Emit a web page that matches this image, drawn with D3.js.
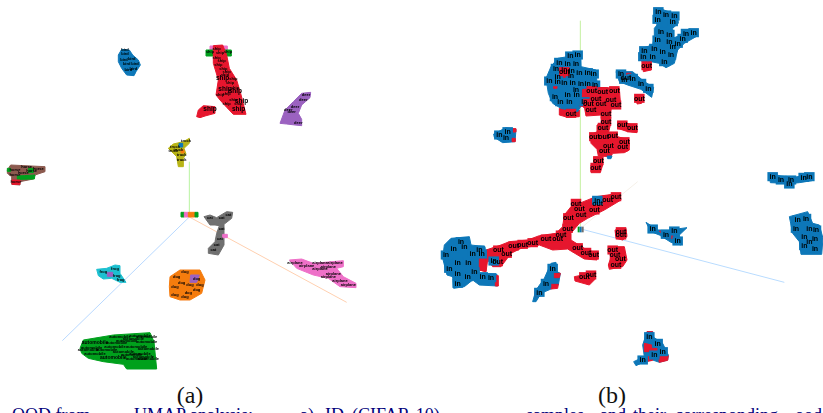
<!DOCTYPE html>
<html>
<head>
<meta charset="utf-8">
<script src="https://cdn.jsdelivr.net/npm/d3@7"></script>
<style>
html, body { margin: 0; padding: 0; background: #fff; overflow: hidden; }
</style>
</head>
<body>
<div id="umap-vis"></div>
<script>
const classNames = ["bird", "ship", "automobile", "deer", "truck", "horse", "cat", "frog", "dog", "airplane", "in", "out"];
const classColors = ["#0a77b8", "#e6162d", "#00a01e", "#9b62c0", "#b8b414", "#8c5a50", "#6f6f6f", "#1fc0d0", "#f57c10", "#ee70c8", "#0a77b8", "#e6162d"];

const blobsTopA = [
    ["bird", [[355,165],[365,148],[388,150],[398,165],[415,180],[421,195],[408,215],[402,227],[380,225],[365,205],[355,185]]],
    ["airplane", [[630,138],[682,138],[682,150],[630,150]]],
    ["automobile", [[618,150],[694,150],[694,168],[618,168]]],
    ["ship", [[640,137],[668,135],[680,165],[688,205],[710,240],[722,280],[738,343],[700,343],[680,322],[660,300],[648,285],[655,240],[640,190]]],
    ["ship", [[590,350],[595,330],[610,317],[645,320],[645,340],[615,348],[600,353]]],
    ["deer", [[840,370],[855,330],[880,305],[905,280],[932,277],[930,293],[905,315],[895,340],[905,358],[905,377],[885,375],[860,372]]],
    ["truck", [[505,445],[520,432],[550,425],[568,415],[568,430],[552,445],[558,462],[550,475],[550,500],[535,500],[530,470],[515,455]]],
    ["bird", [[537,430],[548,430],[548,441],[537,441]]],
    ["dog", [[543,450],[552,450],[552,459],[543,459]]],
    ["horse", [[22,510],[32,495],[135,500],[135,515],[105,525],[100,537],[60,545],[60,555],[35,553],[35,530],[22,520]]],
    ["automobile", [[52,528],[105,525],[103,537],[52,538]]],
    ["automobile", [[22,505],[32,505],[32,514],[22,514]]],
    ["automobile", [[85,505],[100,505],[100,518],[85,518]]],
    ["ship", [[36,540],[60,540],[60,553],[36,553]]]
];
const blobsBottomA = [
    ["automobile", [[543,22],[553,22],[553,36],[543,36]]],
    ["airplane", [[553,22],[565,22],[565,36],[553,36]]],
    ["dog", [[565,22],[585,22],[585,36],[565,36]]],
    ["automobile", [[585,22],[594,22],[594,36],[585,36]]],
    ["cat", [[612,35],[630,30],[650,38],[680,20],[698,22],[695,40],[672,58],[672,120],[655,150],[625,145],[625,130],[645,110],[650,85],[658,62],[645,60],[630,60]]],
    ["airplane", [[668,88],[682,88],[682,98],[668,98]]],
    ["frog", [[290,193],[320,190],[345,180],[360,182],[360,205],[378,232],[360,232],[335,220],[310,222],[295,212]]],
    ["deer", [[322,202],[338,202],[338,214],[322,214]]],
    ["dog", [[510,215],[540,195],[600,195],[615,225],[605,265],[570,285],[540,285],[510,275],[508,245]]],
    ["deer", [[572,210],[598,210],[590,232],[570,232]]],
    ["airplane", [[868,165],[905,162],[940,175],[1030,167],[1030,185],[1010,190],[1030,215],[1068,235],[1068,248],[1020,245],[985,220],[940,210],[890,190]]],
    ["automobile", [[240,430],[250,405],[340,390],[450,383],[462,410],[470,492],[380,492],[370,478],[310,470],[265,460],[245,445]]]
];
const blobsTopB = [
    ["out", [[445,325],[505,330],[505,350],[470,352],[445,345]]],
    ["in", [[405,235],[420,200],[440,175],[470,170],[490,155],[508,155],[510,200],[555,210],[558,250],[560,265],[520,270],[515,310],[500,335],[450,325],[425,310],[412,280]]],
    ["out", [[452,205],[468,205],[468,232],[452,232]]],
    ["out", [[428,238],[438,238],[438,265],[428,265]]],
    ["out", [[515,268],[560,262],[625,265],[628,305],[600,328],[598,345],[598,375],[592,400],[620,410],[655,420],[655,450],[640,458],[605,460],[600,470],[562,468],[558,448],[540,430],[538,405],[558,395],[558,375],[572,370],[570,345],[525,348],[520,320],[505,318]]],
    ["in", [[588,468],[603,468],[600,476],[590,476]]],
    ["out", [[620,367],[650,370],[678,380],[678,398],[650,395],[620,385]]],
    ["out", [[548,472],[575,472],[575,495],[568,518],[540,518],[540,495],[548,490]]],
    ["out", [[695,185],[718,185],[720,210],[697,215]]],
    ["in", [[730,25],[745,25],[800,45],[802,70],[785,85],[785,115],[810,105],[815,92],[855,90],[855,110],[820,130],[800,150],[790,190],[765,203],[745,190],[720,185],[695,188],[688,175],[690,145],[725,135],[730,110],[730,85],[738,75],[732,50]]],
    ["in", [[615,215],[665,215],[700,245],[728,262],[722,292],[690,268],[650,255],[625,245]]],
    ["out", [[678,285],[695,285],[692,310],[678,312]]],
    ["in", [[248,402],[285,383],[315,388],[312,425],[275,428],[250,412]]],
    ["out", [[305,386],[315,386],[315,396],[305,396]]],
    ["out", [[303,415],[313,415],[313,425],[303,425]]],
    ["in", [[1075,520],[1110,528],[1150,532],[1200,522],[1203,542],[1165,548],[1143,550],[1140,562],[1128,562],[1125,550],[1078,548]]]
];
const blobsBottomB = [
    ["out", [[225,135],[270,120],[295,110],[350,105],[385,92],[435,85],[455,65],[460,30],[480,5],[555,-25],[625,-35],[630,-15],[580,15],[530,40],[505,55],[480,85],[480,105],[520,130],[558,145],[558,165],[520,162],[470,132],[425,135],[385,120],[330,130],[300,145],[270,185],[245,185],[230,165],[225,200],[205,195],[205,160],[225,150]]],
    ["in", [[100,120],[120,100],[175,95],[180,120],[222,125],[225,160],[205,165],[205,205],[258,208],[260,243],[205,240],[185,225],[160,245],[128,250],[125,215],[108,210],[95,160]]],
    ["out", [[205,160],[225,160],[225,200],[205,195]]],
    ["out", [[253,212],[262,212],[262,243],[253,243]]],
    ["out", [[612,75],[645,70],[648,95],[635,105],[615,100]]],
    ["out", [[600,125],[640,125],[648,165],[635,185],[595,193],[592,180],[600,155]]],
    ["out", [[490,215],[550,203],[550,225],[535,240],[492,228]]],
    ["in", [[365,290],[375,255],[400,220],[420,175],[435,172],[438,200],[448,205],[442,240],[420,252],[390,265],[375,290]]],
    ["out", [[430,205],[448,205],[445,218],[430,218]]],
    ["out", [[372,258],[392,252],[388,272],[372,275]]],
    ["out", [[420,238],[442,238],[440,250],[420,252]]],
    ["in", [[705,52],[740,75],[775,75],[828,68],[805,90],[810,120],[780,112],[745,90],[720,80]]],
    ["out", [[745,78],[775,78],[790,100],[765,100]]],
    ["in", [[708,380],[725,380],[725,395],[755,415],[772,450],[770,465],[745,472],[725,465],[700,470],[675,482],[668,470],[700,455],[695,420]]],
    ["out", [[708,380],[725,380],[722,398],[708,398]]],
    ["out", [[700,415],[722,420],[722,440],[700,440]]],
    ["out", [[742,452],[772,452],[770,466],[745,472]]],
    ["out", [[725,428],[745,428],[745,445],[725,445]]],
    ["out", [[705,455],[730,455],[725,466],[705,470]]],
    ["in", [[1135,35],[1190,20],[1205,55],[1225,60],[1236,100],[1232,148],[1170,148],[1165,110],[1145,85]]]
];

const tinyTopA = [
    ["bird",375,160],["bird",395,175],["bird",380,190],["bird",400,205],["bird",372,178],["bird",405,190],["bird",385,208],["bird",375,150],
    ["ship",650,145],["ship",660,158],["ship",650,172],["ship",665,182],["ship",655,195],["ship",670,205],["ship",680,215],["ship",675,225],["ship",700,235],["ship",690,248],["ship",705,262],["ship",680,282],["ship",700,298],["ship",715,312],["ship",660,285],["ship",630,155],["ship",684,155],["ship",680,310],
    ["deer",885,320],["deer",875,335],["deer",910,298],["deer",895,368],["deer",918,285],["deer",865,328],
    ["truck",525,440],["truck",558,422],["truck",520,452],["truck",545,478],["truck",545,465],["truck",535,448],
    ["horse",45,508],["horse",80,500],["horse",115,507],["horse",70,518],["horse",45,525],["horse",48,546],["horse",95,512]
];
const tinyBottomA = [
    ["cat",630,38],["cat",665,38],["cat",685,28],["cat",660,100],["cat",650,118],["cat",640,135],["cat",665,70],
    ["frog",310,200],["frog",345,190],["frog",350,212],["frog",362,225],
    ["dog",555,200],["dog",530,215],["dog",590,222],["dog",545,232],["dog",570,240],["dog",525,245],["dog",590,255],["dog",525,268],["dog",565,262],["dog",555,275],["dog",600,238],
    ["airplane",885,172],["airplane",920,182],["airplane",960,172],["airplane",1005,172],["airplane",960,192],["airplane",1000,205],["airplane",1020,228],["airplane",985,215],["airplane",1045,240],["airplane",985,185],
    ["automobile",360,395],["automobile",420,392],["automobile",380,407],["automobile",440,410],["automobile",275,428],["automobile",345,425],["automobile",410,425],["automobile",445,430],["automobile",285,445],["automobile",370,440],["automobile",420,445],["automobile",445,462],["automobile",410,462],["automobile",265,435],["automobile",350,412],["automobile",320,435],["automobile",400,402],["automobile",440,395],["automobile",395,450],["automobile",430,455]
];
const bigTopA = [["ship",668,232],["ship",675,265],["ship",706,272],["ship",716,327],["ship",630,327],["ship",725,302]];
const bigBottomA = [["automobile",285,413],["automobile",340,456]];

const wordsTopB = [
    ["in",478,168],["in",500,165],["in",445,187],["in",470,190],["in",495,190],["in",435,205],["in",482,212],["in",505,218],["in",530,218],["in",548,222],["in",440,230],["in",480,226],["in",415,243],["in",460,247],["in",485,247],["in",440,245],["in",510,250],["in",530,252],["in",552,255],["in",497,285],["in",448,305],["in",475,305],["in",460,210],["in",495,268],["in",470,285],["in",432,290],["in",520,305],
    ["out",610,272],["out",575,275],["out",542,272],["out",555,295],["out",600,298],["out",532,310],["out",570,310],["out",615,315],["out",540,330],["out",585,342],["out",585,364],["out",576,382],["out",550,410],["out",578,410],["out",605,408],["out",640,425],["out",592,438],["out",635,440],["out",580,452],["out",634,375],["out",664,383],["out",562,482],["out",554,502],["out",707,197],["out",460,215],["out",685,295],["out",480,340],["out",645,232],
    ["in",742,35],["in",765,45],["in",790,48],["in",740,58],["in",785,65],["in",750,95],["in",775,103],["in",740,120],["in",775,125],["in",800,130],["in",825,100],["in",848,98],["in",815,115],["in",700,152],["in",730,145],["in",755,155],["in",785,140],["in",697,170],["in",725,170],["in",760,185],["in",780,165],
    ["in",630,222],["in",665,235],["in",690,250],["in",712,265],["in",640,238],["in",265,405],["in",290,395],["in",285,412],
    ["in",1085,530],["in",1110,540],["in",1140,540],["in",1178,532],["in",1195,530],["in",1135,552]
];
const wordsBottomB = [
    ["out",505,12],["out",550,15],["out",472,38],["out",510,28],["out",470,70],["out",450,90],["out",405,102],["out",440,100],["out",365,113],["out",335,118],["out",308,123],["out",287,145],["out",262,135],["out",260,170],["out",500,128],["out",525,142],["out",548,150],["out",630,90],["out",630,80],["out",612,150],["out",628,160],["out",615,178],["out",605,135],["out",520,215],["out",540,210],["out",590,-15],["out",615,-25],["out",495,-5],["out",560,-5],
    ["in",105,150],["in",128,130],["in",160,125],["in",185,145],["in",140,172],["in",172,172],["in",115,190],["in",212,147],["in",190,200],["in",215,215],["in",240,218],["in",150,110],["in",205,135],["in",559,-14],["in",248,168],["in",140,205],["in",170,215],["in",140,235],
    ["in",405,235],["in",425,190],["in",385,262],["in",765,88],["in",790,78],["in",725,72],["in",800,108],["in",715,395],["in",740,415],["in",755,440],["in",695,465],["in",730,450],
    ["in",1160,45],["in",1185,40],["in",1155,70],["in",1195,70],["in",1180,95],["in",1212,100],["in",1180,122],["in",1212,130],["in",1195,110],["in",1215,75]
];

const axisLinesA = [
    ["#b9f3a0", 568, -130, 568, 36],
    ["#b9d9ff", 568, 36, 187, 407],
    ["#ffd0b0", 568, 36, 1040, 292]
];
const axisLinesB = [
    ["#c5f0a0", 508, -553, 508, 65],
    ["#b9dcff", 510, 72, 1120, 232],
    ["#f5f0e8", 515, 65, 680, -70]
];
const markerB = [["automobile",500,65,506,82],["in",506,65,512,82],["cat",512,65,518,82]];

const panelCaptions = [["(a)",190],["(b)",612]];
const captionWords = [
    ["OOD from",12],["UMAP",134],["analysis:",190],["a)",300],["ID",325],["(CIFAR-10)",352],
    ["samples",526],["and",600],["their",633],["corresponding",675],["ood",795]
];

const width = 823, height = 413;
const color = d3.scaleOrdinal().domain(classNames).range(classColors);

// each quarter of the picture has its own reading scale
const xLeft = d3.scaleLinear().domain([0, 1233]).range([0, 411]);
const xRight = d3.scaleLinear().domain([0, 1236]).range([411, 823]);
const yTop = d3.scaleLinear().domain([0, 630]).range([0, 210]);
const yBottom = d3.scaleLinear().domain([0, 624]).range([205, 413]);

const svg = d3.select("#umap-vis")
    .append("svg")
    .attr("width", width)
    .attr("height", height)
    .style("display", "block");

const defs = svg.append("defs");
defs.append("filter").attr("id", "soft").append("feGaussianBlur").attr("stdDeviation", 0.4);

const plot = svg.append("g").attr("filter", "url(#soft)");

drawAxes = (lines, x, y) => {
    plot.append("g").selectAll("line")
        .data(lines)
        .join("line")
        .attr("x1", d => x(d[1]))
        .attr("y1", d => y(d[2]))
        .attr("x2", d => x(d[3]))
        .attr("y2", d => y(d[4]))
        .attr("stroke", d => d[0])
        .attr("stroke-width", 1);
}

drawBlobs = (blobs, x, y) => {
    const line = d3.line().x(d => x(d[0])).y(d => y(d[1])).curve(d3.curveLinearClosed);
    plot.append("g").selectAll("path")
        .data(blobs)
        .join("path")
        .attr("d", d => line(d[1]))
        .attr("fill", d => color(d[0]))
        .attr("stroke", d => color(d[0]))
        .attr("stroke-width", 1)
        .attr("stroke-linejoin", "round");
}

drawWords = (words, x, y, fontSize, boxed) => {
    const g = plot.append("g");
    if (boxed) {
        // every word of panel (b) sits on a little square of its class
        g.selectAll("rect")
            .data(words)
            .join("rect")
            .attr("x", d => x(d[1]) - fontSize * 0.75)
            .attr("y", d => y(d[2]) - fontSize * 0.65)
            .attr("width", fontSize * 1.5)
            .attr("height", fontSize * 1.3)
            .attr("fill", d => color(d[0]));
    }
    g.selectAll("text")
        .data(words)
        .join("text")
        .attr("x", d => x(d[1]))
        .attr("y", d => y(d[2]))
        .attr("dy", "0.35em")
        .attr("text-anchor", "middle")
        .style("font", `bold ${fontSize}px 'Liberation Sans', sans-serif`)
        .style("fill", "#000")
        .text(d => d[0]);
}

drawAxes(axisLinesA, xLeft, yBottom);
drawBlobs(blobsTopA, xLeft, yTop);
drawBlobs(blobsBottomA, xLeft, yBottom);
drawWords(tinyTopA, xLeft, yTop, 4, false);
drawWords(tinyBottomA, xLeft, yBottom, 4, false);
drawWords(bigTopA, xLeft, yTop, 6.5, false);
drawWords(bigBottomA, xLeft, yBottom, 5, false);

drawAxes(axisLinesB, xRight, yBottom);
drawBlobs(blobsTopB, xRight, yTop);
drawBlobs(blobsBottomB, xRight, yBottom);
drawWords(wordsTopB, xRight, yTop, 7, true);
drawWords(wordsBottomB, xRight, yBottom, 7, true);

plot.append("g").selectAll("rect")
    .data(markerB)
    .join("rect")
    .attr("x", d => xRight(d[1]))
    .attr("y", d => yBottom(d[2]))
    .attr("width", d => xRight(d[3]) - xRight(d[1]))
    .attr("height", d => yBottom(d[4]) - yBottom(d[2]))
    .attr("fill", d => color(d[0]));

svg.append("g").selectAll("text")
    .data(panelCaptions)
    .join("text")
    .attr("x", d => d[1])
    .attr("y", 403)
    .attr("text-anchor", "middle")
    .style("font", "24px 'Liberation Serif', serif")
    .style("fill", "#111")
    .text(d => d[0]);

svg.append("g").selectAll("text")
    .data(captionWords)
    .join("text")
    .attr("x", d => d[1])
    .attr("y", 421)
    .style("font", "18px 'Liberation Serif', serif")
    .style("fill", "#00007a")
    .text(d => d[0]);
</script>
</body>
</html>
